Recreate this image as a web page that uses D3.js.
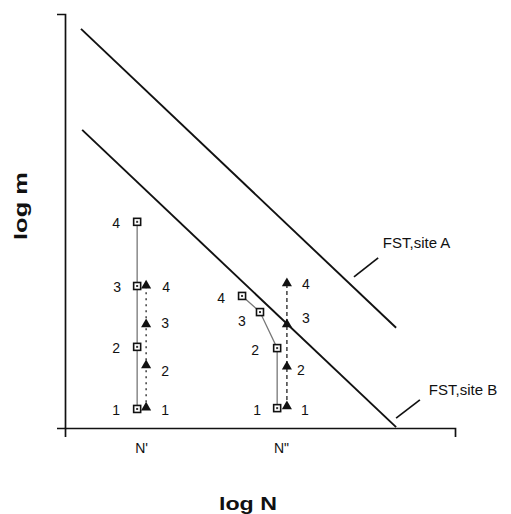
<!DOCTYPE html>
<html>
<head>
<meta charset="utf-8">
<script src="https://cdn.jsdelivr.net/npm/d3@7"></script>
<style>
  html, body { margin: 0; padding: 0; background: #fff; }
  svg { display: block; font-family: "Liberation Sans", Arial, sans-serif; }
</style>
</head>
<body>
<svg id="chart" width="511" height="514"></svg>
<script>
// ---- data (arbitrary log units) ----
const xTickValues = [1.95, 5.54];
const xTickLabels = ["N'", 'N"'];

const lineA = [{x: 0.41, y: 9.64}, {x: 8.49, y: 2.42}];
const lineB = [{x: 0.44, y: 7.20}, {x: 8.49, y: 0.02}];
const lineLabels = ["FST,site A", "FST,site B"];
const leaderA = [{x: 7.41, y: 3.65}, {x: 8.03, y: 4.11}];
const leaderB = [{x: 8.49, y: 0.24}, {x: 9.10, y: 0.68}];
const labelAnchors = [{x: 8.15, y: 4.35}, {x: 9.33, y: 0.80}];

const stepLabels = ["1", "2", "3", "4"];
// group N'
const g1SquareX = [1.85, 1.85, 1.85, 1.85];
const g1SquareY = [0.46, 1.96, 3.43, 4.98];
const g1TriX = [2.08, 2.08, 2.08, 2.08];
const g1TriY = [0.48, 1.50, 2.49, 3.43];
// group N''
const g2SquareX = [5.44, 5.44, 5.00, 4.54];
const g2SquareY = [0.48, 1.93, 2.80, 3.19];
const g2TriX = [5.69, 5.69, 5.69, 5.69];
const g2TriY = [0.51, 1.47, 2.49, 3.48];

// ---- scales ----
const svg = d3.select("#chart");
const x = d3.scaleLinear().domain([0, 10]).range([65, 455]);
const y = d3.scaleLinear().domain([0, 10]).range([428, 14]);

// ---- axes ----
const xAxis = d3.axisBottom(x)
  .tickValues(xTickValues)
  .tickFormat((d, i) => xTickLabels[i])
  .tickSize(0).tickSizeOuter(9).tickPadding(15);
const gx = svg.append("g").attr("transform", `translate(0,${y(0)})`).call(xAxis);
gx.select(".domain").attr("stroke", "#111").attr("stroke-width", 1.7);
gx.selectAll("text").attr("font-size", 14).attr("fill", "#111")
  .attr("font-family", "Liberation Sans, Arial, sans-serif");

const yAxis = d3.axisLeft(y).tickValues([]).tickSizeOuter(8);
const gy = svg.append("g").attr("transform", `translate(${x(0)},0)`).call(yAxis);
gy.select(".domain").attr("stroke", "#111").attr("stroke-width", 1.7);

// axis titles
svg.append("text")
  .attr("x", 248).attr("y", 510)
  .attr("text-anchor", "middle")
  .attr("font-size", 18).attr("font-weight", "bold").attr("fill", "#111")
  .attr("textLength", 58).attr("lengthAdjust", "spacingAndGlyphs")
  .text("log N");
svg.append("text")
  .attr("transform", "translate(27,206) rotate(-90)")
  .attr("text-anchor", "middle")
  .attr("font-size", 19).attr("font-weight", "bold").attr("fill", "#111")
  .attr("textLength", 68).attr("lengthAdjust", "spacingAndGlyphs")
  .text("log m");

// ---- FST lines ----
const line = d3.line().x(d => x(d.x)).y(d => y(d.y));
[lineA, lineB].forEach(l => {
  svg.append("path").attr("d", line(l))
    .attr("fill", "none").attr("stroke", "#111").attr("stroke-width", 1.9);
});
[leaderA, leaderB].forEach(l => {
  svg.append("path").attr("d", line(l))
    .attr("fill", "none").attr("stroke", "#111").attr("stroke-width", 1.7);
});
labelAnchors.forEach((p, i) => {
  svg.append("text")
    .attr("x", x(p.x)).attr("y", y(p.y))
    .attr("font-size", 15).attr("fill", "#111")
    .text(lineLabels[i]);
});

// ---- groups ----
function drawGroup(sx, sy, tx, ty, triDash, leftOff, rightOff) {
  const sq = sx.map((v, i) => ({x: v, y: sy[i]}));
  const tr = tx.map((v, i) => ({x: v, y: ty[i]}));

  svg.append("path").attr("d", line(sq))
    .attr("fill", "none").attr("stroke", "#777").attr("stroke-width", 1.3);
  svg.append("path").attr("d", line(tr))
    .attr("fill", "none").attr("stroke", "#222").attr("stroke-width", 1.3)
    .attr("stroke-dasharray", triDash);

  sq.forEach((d, i) => {
    const cx = x(d.x), cy = y(d.y);
    svg.append("rect").attr("x", cx - 3.5).attr("y", cy - 3.5)
      .attr("width", 7).attr("height", 7)
      .attr("fill", "#fff").attr("stroke", "#111").attr("stroke-width", 1.6);
    svg.append("rect").attr("x", cx - 1).attr("y", cy - 1)
      .attr("width", 2).attr("height", 2).attr("fill", "#333");
    svg.append("text")
      .attr("x", cx + leftOff[i][0]).attr("y", cy + leftOff[i][1])
      .attr("text-anchor", "middle").attr("dy", "0.36em")
      .attr("font-size", 14).attr("fill", "#111")
      .text(stepLabels[i]);
  });
  tr.forEach((d, i) => {
    const cx = x(d.x), cy = y(d.y);
    svg.append("path")
      .attr("d", d3.symbol().type(d3.symbolTriangle).size(44)())
      .attr("transform", `translate(${cx},${cy - 0.5})`)
      .attr("fill", "#111");
    svg.append("text")
      .attr("x", cx + rightOff[i][0]).attr("y", cy + rightOff[i][1])
      .attr("text-anchor", "middle").attr("dy", "0.36em")
      .attr("font-size", 14).attr("fill", "#111")
      .text(stepLabels[i]);
  });
}

drawGroup(g1SquareX, g1SquareY, g1TriX, g1TriY, "2,4",
  [[-21, 1], [-21, 1], [-20, 1], [-21, 1]],
  [[19, 2], [19, 5], [19, -2], [20, 1]]);
drawGroup(g2SquareX, g2SquareY, g2TriX, g2TriY, "4,3",
  [[-20, 2], [-22, 2], [-18, 9], [-21, 2]],
  [[18, 3], [14, 3], [19, -7], [19, 0]]);
</script>
</body>
</html>
